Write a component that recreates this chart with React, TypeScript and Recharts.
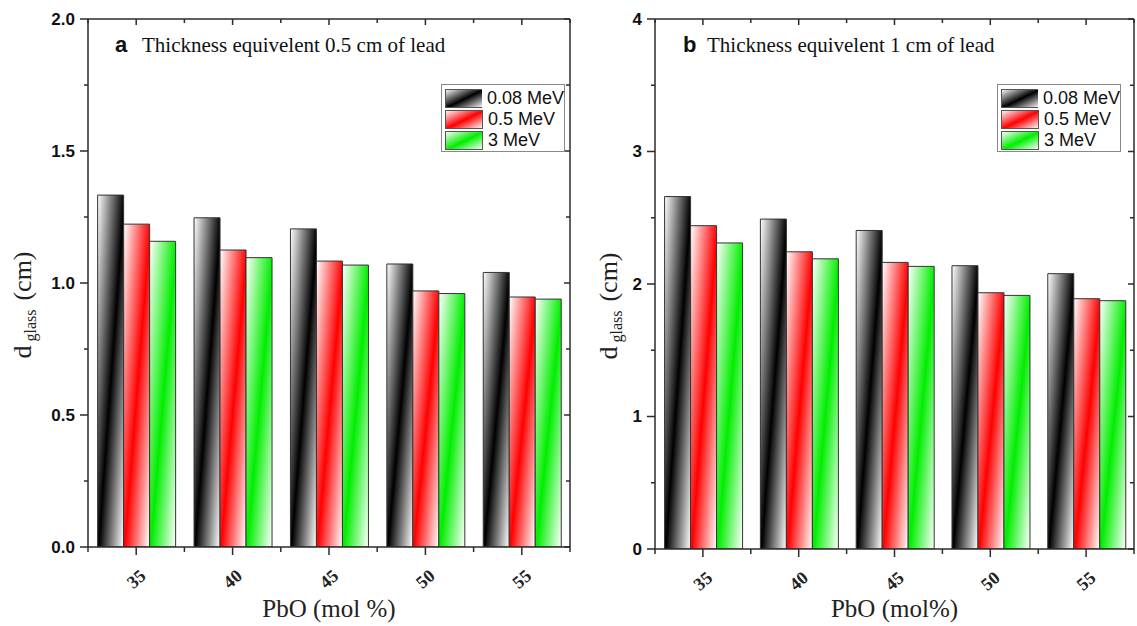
import { BarChart, Bar, XAxis, YAxis, Label } from 'recharts'

const SERIF = '"Liberation Serif", "Times New Roman", serif'
const SANS = '"Liberation Sans", Arial, sans-serif'
const AXIS = '#2b2b2b'

// categories + series
const PBO = ['35', '40', '45', '50', '55']
const SERIES_NAMES = ['0.08 MeV', '0.5 MeV', '3 MeV']
const SERIES_COLORS = ['#000000', '#ff0000', '#00ee00']

// panel a: 0.5 cm lead equivalent
const A_008 = [1.333, 1.247, 1.205, 1.072, 1.040]
const A_05 = [1.223, 1.125, 1.083, 0.970, 0.947]
const A_3 = [1.158, 1.096, 1.068, 0.960, 0.939]

// panel b: 1 cm lead equivalent
const B_008 = [2.66, 2.49, 2.404, 2.138, 2.078]
const B_05 = [2.44, 2.243, 2.163, 1.934, 1.889]
const B_3 = [2.31, 2.19, 2.133, 1.914, 1.874]

const A_MAJOR = [0, 0.5, 1, 1.5, 2]
const A_MINOR = [0.25, 0.75, 1.25, 1.75]
const B_MAJOR = [0, 1, 2, 3, 4]
const B_MINOR = [0.5, 1.5, 2.5, 3.5]

type Row = { pbo: string; s0: number; s1: number; s2: number }

function buildRows(series: number[][]): Row[] {
  return PBO.map((pbo, i) => ({ pbo, s0: series[0][i], s1: series[1][i], s2: series[2][i] }))
}

function BottomTick(props: any) {
  const { x, y, payload, index, visibleTicksCount, width } = props
  const half = payload.offset ?? width / (2 * visibleTicksCount)
  const last = index === visibleTicksCount - 1
  return (
    <g>
      <line x1={x} y1={y} x2={x} y2={y + 8} stroke={AXIS} strokeWidth={1.5} />
      <line x1={x - half} y1={y} x2={x - half} y2={y + 5} stroke={AXIS} strokeWidth={1.5} />
      {last && <line x1={x + half} y1={y} x2={x + half} y2={y + 5} stroke={AXIS} strokeWidth={1.5} />}
      <text
        transform={`translate(${x},${y + 32}) rotate(-40)`}
        textAnchor="middle"
        dominantBaseline="central"
        fontFamily={SERIF}
        fontWeight="bold"
        fontSize={18}
        fill="#222"
      >
        {payload.value}
      </text>
    </g>
  )
}

function TopTick(props: any) {
  const { x, y, payload, index, visibleTicksCount, width } = props
  const half = payload.offset ?? width / (2 * visibleTicksCount)
  const last = index === visibleTicksCount - 1
  return (
    <g>
      <line x1={x} y1={y} x2={x} y2={y + 6} stroke={AXIS} strokeWidth={1.5} />
      <line x1={x - half} y1={y} x2={x - half} y2={y + 4} stroke={AXIS} strokeWidth={1.5} />
      {last && <line x1={x + half} y1={y} x2={x + half} y2={y + 4} stroke={AXIS} strokeWidth={1.5} />}
    </g>
  )
}

function makeYTick(major: number[], fmt: (v: number) => string, withLabel: boolean, len: number) {
  return (props: any) => {
    const { x, y, payload } = props
    const isMajor = major.includes(payload.value)
    return (
      <g>
        <line x1={x - (isMajor ? len : 4)} y1={y} x2={x} y2={y} stroke={AXIS} strokeWidth={1.5} />
        {withLabel && isMajor && (
          <text
            x={x - len - 5}
            y={y}
            textAnchor="end"
            dominantBaseline="central"
            fontFamily={SANS}
            fontWeight="bold"
            fontSize={17}
            fill="#111"
          >
            {fmt(payload.value)}
          </text>
        )}
      </g>
    )
  }
}

interface PanelProps {
  id: string
  left: number
  width: number
  yAxisWidth: number
  marginRight: number
  bottomHeight: number
  series: number[][]
  max: number
  major: number[]
  minor: number[]
  fmt: (v: number) => string
  letter: string
  title: string
  letterDx: number
  titleDx: number
  xLabel: string
  yLabelX: number
  legendLeft: number
}

function Panel(p: PanelProps) {
  const rows = buildRows(p.series)
  const allTicks = [...p.major, ...p.minor].sort((a, b) => a - b)
  const xLabelDy = 617 - (626 - p.bottomHeight)

  return (
    <div style={{ position: 'absolute', left: p.left, top: 0, width: p.width, height: 626 }}>
      <BarChart
        width={p.width}
        height={626}
        data={rows}
        margin={{ top: 18, right: p.marginRight, bottom: 0, left: 0 }}
        barCategoryGap="10%"
        barGap={0}
      >
        <defs>
          {SERIES_COLORS.map((c, i) => (
            <linearGradient key={i} id={`${p.id}-g${i}`} x1="0" y1="0" x2="1" y2="1">
              <stop offset="0%" stopColor="#ffffff" />
              <stop offset="52%" stopColor={c} />
              <stop offset="100%" stopColor="#ffffff" />
            </linearGradient>
          ))}
        </defs>
        <XAxis
          xAxisId="b"
          dataKey="pbo"
          height={p.bottomHeight}
          interval={0}
          tickSize={0}
          tickMargin={0}
          tickLine={false}
          axisLine={{ stroke: AXIS, strokeWidth: 1.5 }}
          tick={BottomTick}
        >
          <Label
            content={(lp: any) => {
              const vb = lp.viewBox
              return (
                <text
                  x={vb.x + vb.width / 2}
                  y={vb.y + xLabelDy}
                  textAnchor="middle"
                  fontFamily={SERIF}
                  fontSize={25}
                  fill="#222"
                >
                  {p.xLabel}
                </text>
              )
            }}
          />
        </XAxis>
        <XAxis
          xAxisId="t"
          dataKey="pbo"
          orientation="top"
          height={1}
          interval={0}
          tickSize={0}
          tickMargin={0}
          tickLine={false}
          axisLine={{ stroke: AXIS, strokeWidth: 1.5 }}
          tick={TopTick}
        >
          <Label
            content={(lp: any) => {
              const vb = lp.viewBox
              return (
                <text y={vb.y + 34} fill="#111">
                  <tspan x={vb.x + p.letterDx} fontFamily={SANS} fontWeight="bold" fontSize={22}>
                    {p.letter}
                  </tspan>
                  <tspan x={vb.x + p.titleDx} fontFamily={SERIF} fontSize={21}>
                    {p.title}
                  </tspan>
                </text>
              )
            }}
          />
        </XAxis>
        <YAxis
          yAxisId="l"
          type="number"
          width={p.yAxisWidth}
          domain={[0, p.max]}
          allowDataOverflow
          ticks={allTicks}
          interval={0}
          tickSize={0}
          tickMargin={0}
          tickLine={false}
          axisLine={{ stroke: AXIS, strokeWidth: 1.5 }}
          tick={makeYTick(p.major, p.fmt, true, 8)}
        >
          <Label
            content={(lp: any) => {
              const vb = lp.viewBox
              const cx = p.yLabelX
              const cy = vb.y + vb.height / 2 + 22
              return (
                <text
                  x={cx}
                  y={cy}
                  transform={`rotate(-90 ${cx} ${cy})`}
                  textAnchor="middle"
                  fontFamily={SERIF}
                  fontSize={26}
                  fill="#222"
                >
                  <tspan>d</tspan>
                  <tspan fontSize={16} dx={4} dy={5}>glass</tspan>
                  <tspan dx={9} dy={-5}>(cm)</tspan>
                </text>
              )
            }}
          />
        </YAxis>
        <YAxis
          yAxisId="r"
          orientation="right"
          type="number"
          width={1}
          domain={[0, p.max]}
          allowDataOverflow
          ticks={allTicks}
          interval={0}
          tickSize={0}
          tickMargin={0}
          tickLine={false}
          axisLine={{ stroke: AXIS, strokeWidth: 1.5 }}
          tick={makeYTick(p.major, p.fmt, false, 6)}
        />
        {SERIES_NAMES.map((name, i) => (
          <Bar
            key={name}
            name={name}
            dataKey={`s${i}`}
            xAxisId="b"
            yAxisId="l"
            fill={`url(#${p.id}-g${i})`}
            stroke="#333"
            strokeWidth={1}
            isAnimationActive={false}
          />
        ))}
      </BarChart>

      <div
        style={{
          position: 'absolute',
          left: p.legendLeft - p.left,
          top: 84,
          width: 122,
          height: 66,
          border: '1px solid #888',
          background: '#fff',
          boxSizing: 'content-box',
        }}
      >
        {SERIES_NAMES.map((name, i) => (
          <div
            key={name}
            style={{ display: 'flex', alignItems: 'center', height: 21, marginTop: i === 0 ? 3 : 0 }}
          >
            <svg width={38} height={19} style={{ marginLeft: 3, display: 'block' }}>
              <rect x={0.5} y={0.5} width={37} height={18} fill={`url(#${p.id}-g${i})`} stroke="#555" />
            </svg>
            <span style={{ marginLeft: 5, fontFamily: SANS, fontSize: 18, color: '#111', lineHeight: '19px', whiteSpace: 'nowrap' }}>
              {name}
            </span>
          </div>
        ))}
      </div>
    </div>
  )
}

export default function App() {
  return (
    <div style={{ position: 'absolute', left: 0, top: 0, width: 1137, height: 626, background: '#fff' }}>
      <Panel
        id="a"
        left={0}
        width={580}
        yAxisWidth={88}
        marginRight={9}
        bottomHeight={79}
        series={[A_008, A_05, A_3]}
        max={2}
        major={A_MAJOR}
        minor={A_MINOR}
        fmt={(v) => v.toFixed(1)}
        letter="a"
        title="Thickness equivelent 0.5 cm of lead"
        letterDx={27}
        titleDx={54}
        xLabel="PbO (mol %)"
        yLabelX={31}
        legendLeft={441}
      />
      <Panel
        id="b"
        left={580}
        width={557}
        yAxisWidth={75}
        marginRight={2}
        bottomHeight={77}
        series={[B_008, B_05, B_3]}
        max={4}
        major={B_MAJOR}
        minor={B_MINOR}
        fmt={(v) => String(v)}
        letter="b"
        title="Thickness equivelent 1 cm of lead"
        letterDx={28}
        titleDx={52}
        xLabel="PbO (mol%)"
        yLabelX={37}
        legendLeft={997}
      />
    </div>
  )
}
